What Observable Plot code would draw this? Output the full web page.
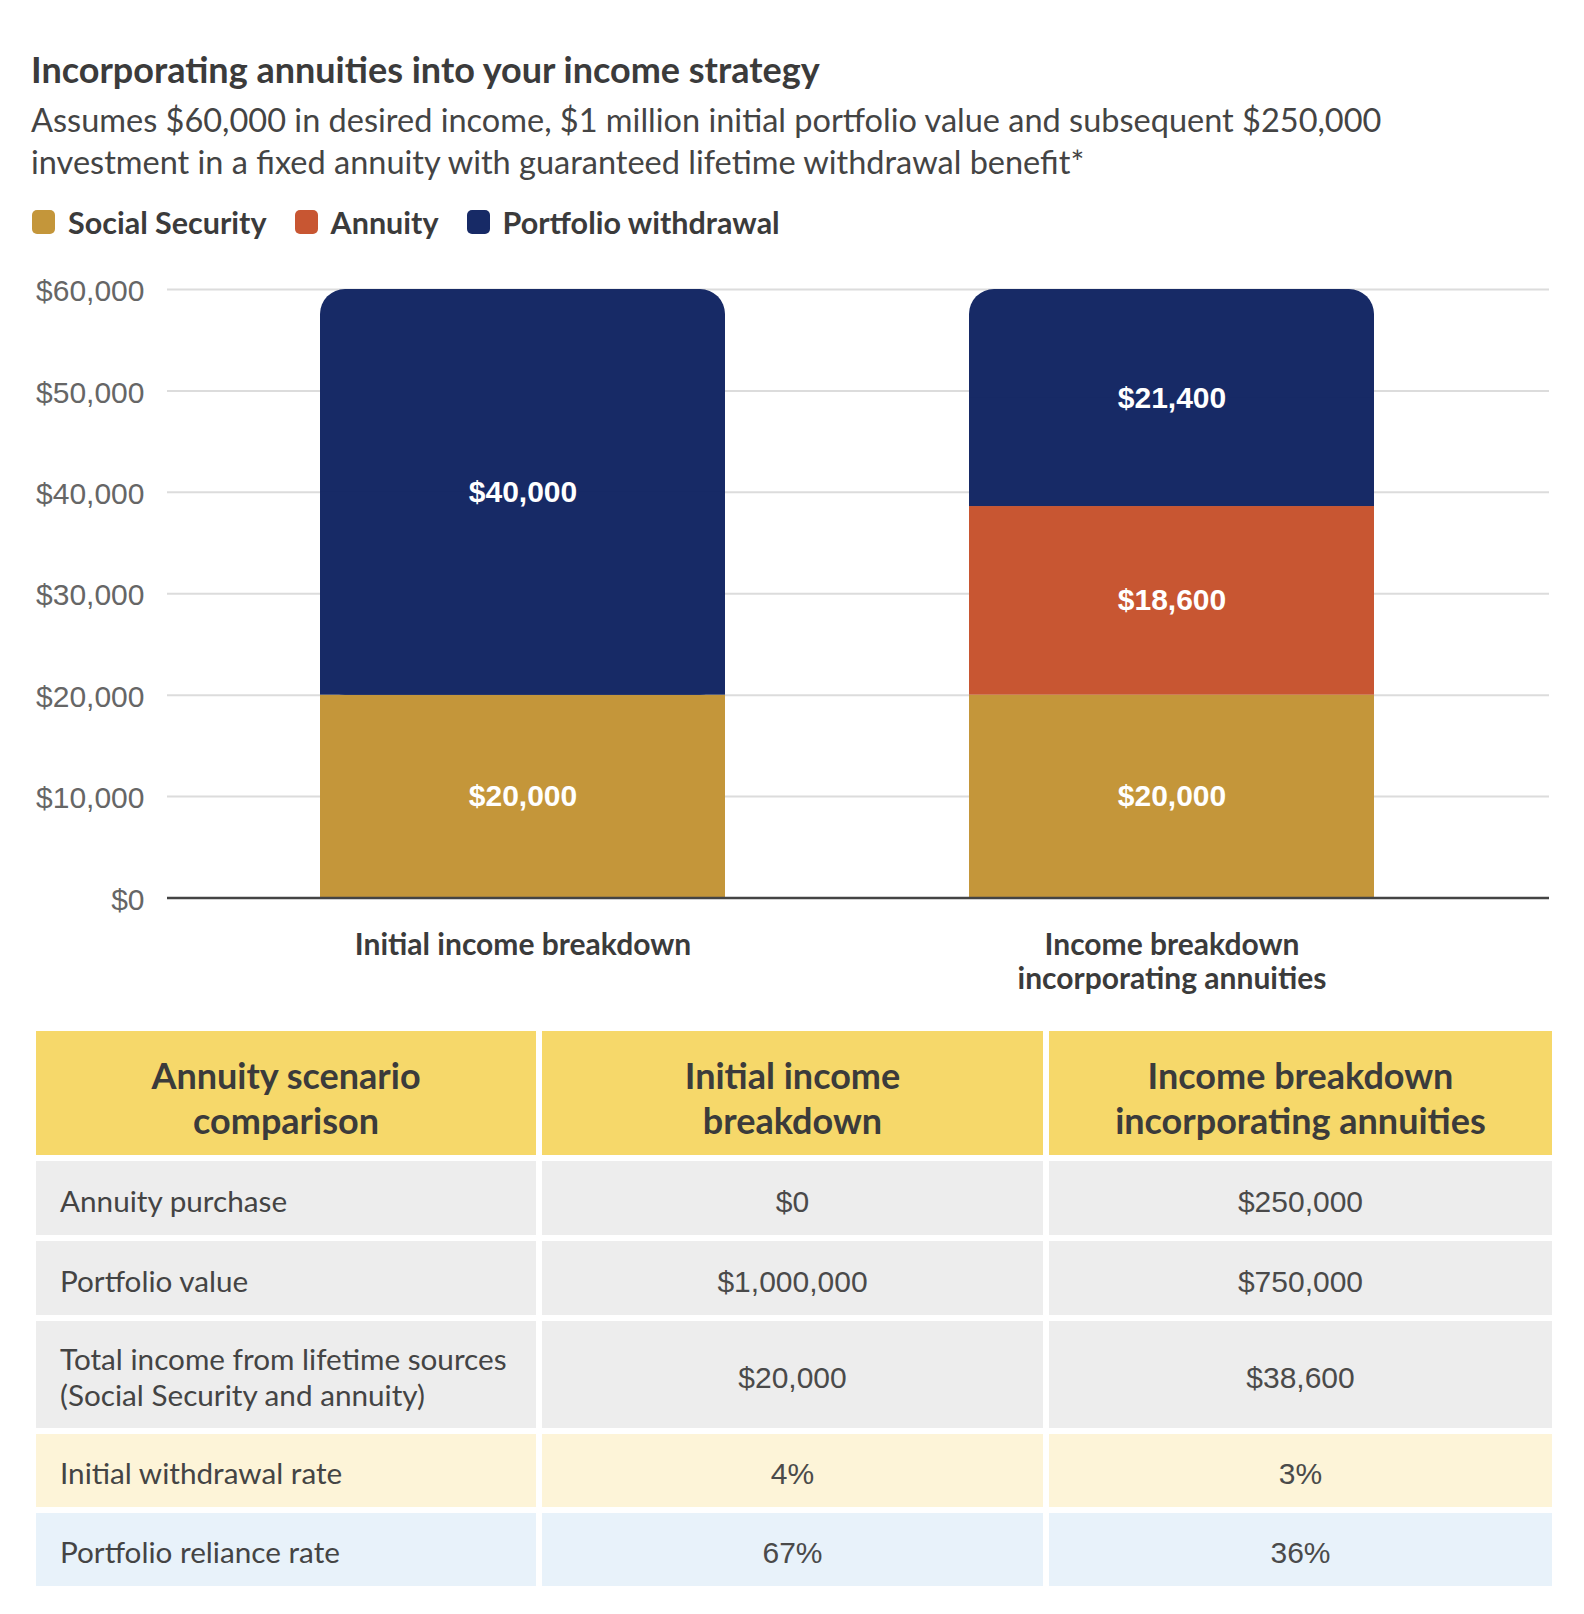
<!DOCTYPE html>
<html><head><meta charset="utf-8">
<script src="https://cdn.jsdelivr.net/npm/d3@7"></script>
<script src="https://cdn.jsdelivr.net/npm/@observablehq/plot@0.6"></script>
<style>
body{margin:0;background:#fff;width:1584px;height:1614px;position:relative;overflow:hidden;font-family:Lato,sans-serif;color:#3b3b3b}
#title{position:absolute;left:31px;top:48px;font-size:36px;line-height:42px;font-weight:700;white-space:nowrap}
#subtitle{position:absolute;left:31px;top:99px;font-size:32.5px;line-height:42px;color:#444;white-space:pre}
#legend{position:absolute;left:32px;top:205px;height:34px;display:flex;align-items:center;font-size:30.5px;font-weight:700}
.sw{width:23px;height:24px;border-radius:5px;margin-right:13px}
.item{display:flex;align-items:center;margin-right:28px}
#chart{position:absolute;left:0;top:250px}
#table{position:absolute;left:30px;top:1025px;border-collapse:separate;border-spacing:6px}
#table th{background:#f6d86a;height:124px;padding:10px 0 0 0;box-sizing:border-box;font-size:36px;line-height:45px;font-weight:700;color:#3b3b3b;white-space:pre-line;text-align:center;vertical-align:middle}
#table td{padding:5px 0 0 0;box-sizing:border-box;font-size:29.7px;line-height:36px;color:#444;white-space:pre-line;vertical-align:middle}
#table td.lab{padding-left:24px;text-align:left}
#table td.val{text-align:center;font-family:"Liberation Sans",sans-serif;font-size:30px;color:#4a4a4a;padding-top:7px}
</style></head>
<body>
<div id="title"></div>
<div id="subtitle"></div>
<div id="legend"></div>
<div id="chart"></div>
<table id="table"></table>
<script>
const titleText = "Incorporating annuities into your income strategy";
const subtitleText = "Assumes $60,000 in desired income, $1 million initial portfolio value and subsequent $250,000\ninvestment in a fixed annuity with guaranteed lifetime withdrawal benefit*";

const categories = ["Initial income breakdown", "Income breakdown incorporating annuities"];
const categoryTickLabels = ["Initial income breakdown", "Income breakdown\nincorporating annuities"];
const series = ["Social Security", "Annuity", "Portfolio withdrawal"];
const socialSecurity = [20000, 20000];
const annuity = [0, 18600];
const portfolioWithdrawal = [40000, 21400];
const yTicks = [0, 10000, 20000, 30000, 40000, 50000, 60000];

const tableHeaders = ["Annuity scenario\ncomparison", "Initial income\nbreakdown", "Income breakdown\nincorporating annuities"];
const tableRowLabels = ["Annuity purchase", "Portfolio value", "Total income from lifetime sources\n(Social Security and annuity)", "Initial withdrawal rate", "Portfolio reliance rate"];
const initialValues = ["$0", "$1,000,000", "$20,000", "4%", "67%"];
const annuityValues = ["$250,000", "$750,000", "$38,600", "3%", "36%"];

// styles
const colors = ["#c4963a", "#c85632", "#172a66"];
const rowBackgrounds = ["#ededed", "#ededed", "#ededed", "#fdf4d8", "#e8f2fa"];
const rowHeights = [74, 74, 107, 73, 73];
const colWidths = [500, 501, 503];

document.getElementById("title").textContent = titleText;
document.getElementById("subtitle").textContent = subtitleText;

const legend = document.getElementById("legend");
series.forEach((s, i) => {
  const it = document.createElement("div"); it.className = "item";
  const sw = document.createElement("div"); sw.className = "sw"; sw.style.background = colors[i];
  const tx = document.createElement("span"); tx.textContent = s;
  it.append(sw, tx); legend.append(it);
});

const values = [socialSecurity, annuity, portfolioWithdrawal];
const data = [];
categories.forEach((c, i) => {
  series.forEach((s, j) => {
    const v = values[j][i];
    if (v > 0) data.push({category: c, series: s, value: v});
  });
});
const topSeg = categories.map((c, i) => ({category: c, base: socialSecurity[i] + annuity[i], value: portfolioWithdrawal[i]}));
const fmt = d3.format("$,");

const chart = Plot.plot({
  width: 1584, height: 770,
  marginLeft: 167, marginRight: 35, marginTop: 39, marginBottom: 122.5,
  style: {background: "transparent", overflow: "visible"},
  x: {domain: categories, range: [319, 1374], paddingInner: 0.3765, paddingOuter: 0, label: null},
  y: {domain: [0, 60000], label: null},
  color: {domain: series, range: colors},
  marks: [
    Plot.ruleY(yTicks.filter(d => d > 0), {stroke: "#dcdcdc", strokeWidth: 2}),
    Plot.axisY({ticks: yTicks, tickFormat: fmt, tickSize: 0, tickPadding: 23, dy: 2, fontSize: 30, color: "#666", fontFamily: "Liberation Sans", label: null}),
    Plot.axisX({tickSize: 0, tickPadding: 33, tickFormat: d => categoryTickLabels[categories.indexOf(d)], fontSize: 30, fontWeight: 700, color: "#3b3b3b", fontFamily: "Lato", lineHeight: 1.13, label: null}),
    Plot.barY(data.filter(d => d.series !== "Portfolio withdrawal"), Plot.stackY({x: "category", y: "value", fill: "series", order: series})),
    Plot.barY(topSeg, {x: "category", y1: "base", y2: d => d.base + d.value, fill: colors[2], rx: 25}),
    Plot.barY(topSeg, {x: "category", y1: "base", y2: d => d.base + d.value / 2, fill: colors[2]}),
    Plot.text(data, Plot.stackY({x: "category", y: "value", z: "series", order: series, text: d => fmt(d.value), fill: "white", fontSize: 30, fontWeight: 700, fontFamily: "Liberation Sans"})),
    Plot.ruleY([0], {stroke: "#444", strokeWidth: 2.5})
  ]
});
document.getElementById("chart").append(chart);

const table = document.getElementById("table");
const hr = document.createElement("tr");
tableHeaders.forEach((h, i) => {
  const th = document.createElement("th"); th.textContent = h; th.style.width = colWidths[i] + "px"; hr.append(th);
});
table.append(hr);
tableRowLabels.forEach((lab, r) => {
  const tr = document.createElement("tr");
  [lab, initialValues[r], annuityValues[r]].forEach((t, c) => {
    const td = document.createElement("td");
    td.textContent = t;
    td.className = c === 0 ? "lab" : "val";
    td.style.background = rowBackgrounds[r];
    td.style.height = rowHeights[r] + "px";
    tr.append(td);
  });
  table.append(tr);
});
</script>
</body></html>
